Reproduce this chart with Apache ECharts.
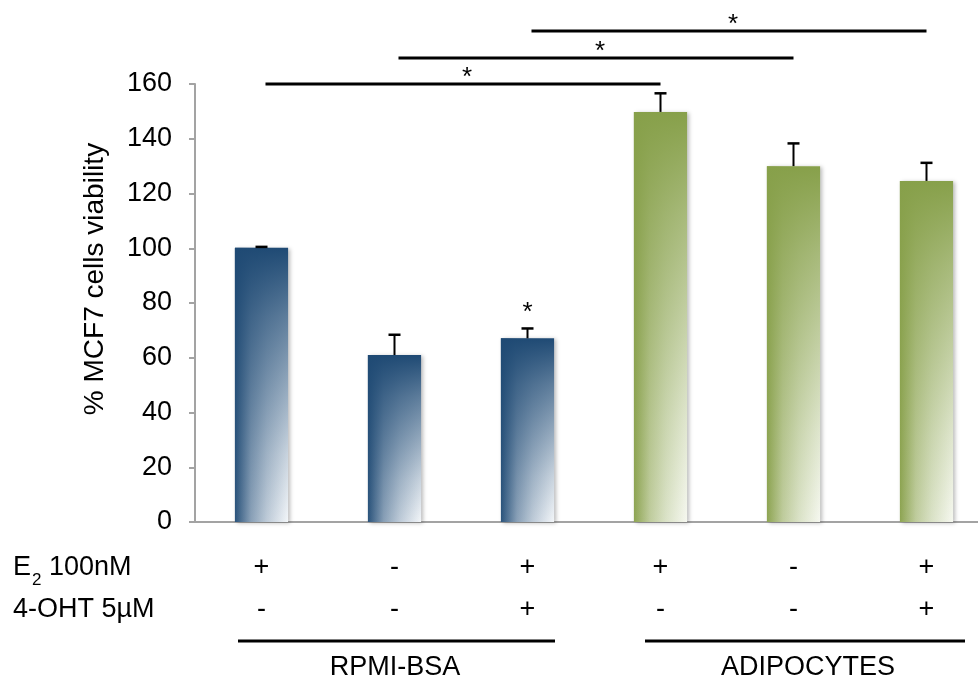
<!DOCTYPE html>
<html><head><meta charset="utf-8">
<script src="https://cdn.jsdelivr.net/npm/echarts@6/dist/echarts.min.js"></script>
<style>html,body{margin:0;padding:0;background:#fff;overflow:hidden}#c{width:993px;height:684px}</style>
</head><body><div id="c"></div>
<script>
// ---- data ----
const categories = ['RPMI E2', 'RPMI ctrl', 'RPMI E2+OHT', 'ADIPO E2', 'ADIPO ctrl', 'ADIPO E2+OHT'];
const viability = [100.2, 61.0, 67.1, 149.8, 130.0, 124.6];
const errorUpper = [0.3, 7.4, 3.6, 6.8, 8.3, 6.6];
const e2Signs = ['+', '-', '+', '+', '-', '+'];
const ohtSigns = ['-', '-', '+', '-', '-', '+'];
const barGroup = [0, 0, 0, 1, 1, 1];
const vsControlMarks = ['', '', '*', '', '', ''];
const brackets = [[0, 3, 160], [1, 4, 169.5], [2, 5, 179.4]];
const bracketMarks = ['*', '*', '*'];
const yMin = 0, yMax = 160, yInterval = 20;
const groupLabels = ['RPMI-BSA', 'ADIPOCYTES'];
const rowLabels = ['E', '2', ' 100nM', '4-OHT 5\u00b5M'];
const yAxisTitle = '% MCF7 cells viability';

// ---- styles ----
const FONT = 'Liberation Sans, Arial, Helvetica, sans-serif';
const palettes = [
  { dark: [31, 74, 116], light: [243, 246, 249] },
  { dark: [135, 160, 74], light: [246, 248, 240] }
];
const hStops = [[0, 0.05], [0.3, 0.5], [0.6, 0.75], [1, 1]];
const vAlpha = [[0, 1], [0.25, 0.7], [0.5, 0.45], [0.75, 0.2], [1, 0]];
const mix = (p, t) => 'rgb(' + p.dark.map((d, k) => Math.round(d + t * (p.light[k] - d))).join(',') + ')';
const rgba = (p, a) => 'rgba(' + p.dark.join(',') + ',' + a + ')';

const chart = echarts.init(document.getElementById('c'), null, { renderer: 'canvas' });

const barData = viability.map((v, i) => [i, v]);
const errData = viability.map((v, i) => [i, v, v + errorUpper[i]]);

const centerText = (extra) => Object.assign({ fill: '#000', align: 'center', verticalAlign: 'middle', textAlign: 'center', textVerticalAlign: 'middle' }, extra);

chart.setOption({
  animation: false,
  backgroundColor: '#fff',
  grid: { left: 195, top: 84, width: 798, height: 438 },
  xAxis: {
    type: 'category',
    data: categories,
    axisLine: { lineStyle: { color: '#a3a3a3', width: 2 } },
    axisTick: { show: false },
    axisLabel: {
      interval: 0,
      margin: 25,
      fontFamily: FONT,
      fontSize: 27,
      lineHeight: 42,
      color: '#000',
      formatter: (val, idx) => e2Signs[idx] + '\n' + ohtSigns[idx]
    },
    splitLine: { show: false }
  },
  yAxis: {
    type: 'value',
    min: yMin, max: yMax, interval: yInterval,
    axisLine: { show: true, lineStyle: { color: '#a3a3a3', width: 2 } },
    axisTick: { show: true, length: 6, lineStyle: { color: '#a3a3a3', width: 2 } },
    axisLabel: { margin: 23, fontFamily: FONT, fontSize: 27, color: '#000' },
    splitLine: { show: false }
  },
  series: [
    {
      type: 'custom',
      name: 'viability',
      data: barData,
      encode: { x: 0, y: 1 },
      renderItem(params, api) {
        const i = params.dataIndex;
        const top = api.coord([api.value(0), api.value(1)]);
        const base = api.coord([api.value(0), 0]);
        const w = api.size([1, 0])[0] * 0.4;
        const x = top[0] - w / 2, y = top[1], h = base[1] - top[1];
        const p = palettes[barGroup[i]];
        return {
          type: 'group',
          children: [
            {
              type: 'rect',
              shape: { x, y, width: w, height: h },
              style: {
                fill: new echarts.graphic.LinearGradient(0, 0, 1, 0,
                  hStops.map(s => ({ offset: s[0], color: mix(p, s[1]) }))),
                shadowBlur: 4, shadowColor: 'rgba(0,0,0,0.28)', shadowOffsetX: 2, shadowOffsetY: 1
              }
            },
            {
              type: 'rect',
              shape: { x, y, width: w, height: h },
              style: {
                fill: new echarts.graphic.LinearGradient(0, 0, 0, 1,
                  vAlpha.map(s => ({ offset: s[0], color: rgba(p, s[1]) })))
              }
            }
          ]
        };
      }
    },
    {
      type: 'custom',
      name: 'error',
      data: errData,
      encode: { x: 0, y: [1, 2] },
      clip: false,
      z: 3,
      renderItem(params, api) {
        const i = params.dataIndex;
        const lo = api.coord([api.value(0), api.value(1)]);
        const hi = api.coord([api.value(0), api.value(2)]);
        const cap = 6;
        const children = [
          { type: 'line', shape: { x1: hi[0], y1: lo[1], x2: hi[0], y2: hi[1] }, style: { stroke: '#000', lineWidth: 2 } },
          { type: 'line', shape: { x1: hi[0] - cap, y1: hi[1], x2: hi[0] + cap, y2: hi[1] }, style: { stroke: '#000', lineWidth: 2.5 } }
        ];
        if (vsControlMarks[i]) {
          children.push({
            type: 'text',
            style: centerText({ text: vsControlMarks[i], x: hi[0], y: hi[1] - 16, font: '26px ' + FONT })
          });
        }
        return { type: 'group', children };
      }
    },
    {
      type: 'custom',
      name: 'brackets',
      data: brackets,
      encode: { x: [0, 1], y: 2 },
      clip: false,
      z: 3,
      renderItem(params, api) {
        const i = params.dataIndex;
        const a = api.coord([api.value(0), api.value(2)]);
        const b = api.coord([api.value(1), api.value(2)]);
        const bw = api.size([1, 0])[0];
        const x1 = a[0] + bw * 0.03, x2 = b[0];
        return {
          type: 'group',
          children: [
            { type: 'line', shape: { x1, y1: a[1], x2, y2: a[1] }, style: { stroke: '#000', lineWidth: 3 } },
            { type: 'text', style: centerText({ text: bracketMarks[i], x: (x1 + x2) / 2 + 4, y: a[1] - 6, font: '26px ' + FONT }) }
          ]
        };
      }
    }
  ],
  graphic: [
    {
      type: 'text', x: 95, y: 279, rotation: Math.PI / 2,
      style: centerText({ text: yAxisTitle, font: '28px ' + FONT })
    },
    {
      type: 'text', x: 13, y: 568,
      style: {
        text: '{a|' + rowLabels[0] + '}{s|' + rowLabels[1] + '}{a|' + rowLabels[2] + '}',
        verticalAlign: 'middle', textVerticalAlign: 'middle',
        rich: {
          a: { fontSize: 27, fontFamily: FONT, lineHeight: 30, fill: '#000', color: '#000' },
          s: { fontSize: 17, fontFamily: FONT, lineHeight: 17, fill: '#000', color: '#000', verticalAlign: 'bottom', padding: [0, 0, -6, 1] }
        }
      }
    },
    {
      type: 'text', x: 13, y: 610,
      style: { text: rowLabels[3], font: '27px ' + FONT, fill: '#000', verticalAlign: 'middle', textVerticalAlign: 'middle' }
    },
    { type: 'line', shape: { x1: 238, y1: 641, x2: 555, y2: 641 }, style: { stroke: '#000', lineWidth: 3 } },
    { type: 'line', shape: { x1: 645, y1: 641, x2: 965, y2: 641 }, style: { stroke: '#000', lineWidth: 3 } },
    { type: 'text', x: 395, y: 668, style: centerText({ text: groupLabels[0], font: '27px ' + FONT }) },
    { type: 'text', x: 808, y: 668, style: centerText({ text: groupLabels[1], font: '27px ' + FONT }) }
  ]
});
</script>
</body></html>
